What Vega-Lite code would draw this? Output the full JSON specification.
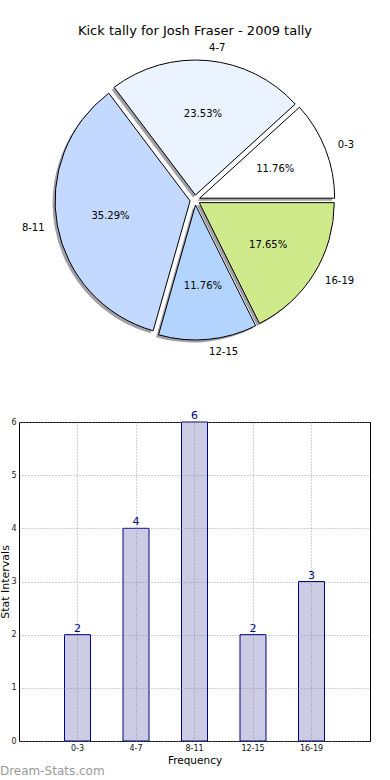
{
  "$schema": "https://vega.github.io/schema/vega-lite/v6.json",
  "padding": {"left": -1, "top": 24, "right": 5, "bottom": 0},
  "background": "white",
  "config": {"font": "DejaVu Sans", "view": {"stroke": null}},
  "datasets": {
    "kicks": [
      {"interval": "0-3", "tally": 2, "rank": 1, "pct": "11.76%"},
      {"interval": "4-7", "tally": 4, "rank": 2, "pct": "23.53%"},
      {"interval": "8-11", "tally": 6, "rank": 3, "pct": "35.29%"},
      {"interval": "12-15", "tally": 2, "rank": 4, "pct": "11.76%"},
      {"interval": "16-19", "tally": 3, "rank": 5, "pct": "17.65%"}
    ]
  },
  "bounds": "flush",
  "spacing": 72,
  "vconcat": [
    {
      "width": 352,
      "height": 300,
      "title": {"text": "Kick tally for Josh Fraser - 2009 tally", "fontSize": 13, "fontWeight": "normal", "offset": 5, "color": "black", "font": "DejaVu Sans"},
      "data": {"name": "kicks"},
      "transform": [{"joinaggregate": [{"op": "sum", "field": "tally", "as": "total"}]}],
      "encoding": {
        "theta": {"field": "tally", "type": "quantitative", "stack": true, "scale": {"range": [1.5708, -4.7124], "nice": false, "zero": true}},
        "order": {"field": "rank", "type": "quantitative"},
        "detail": {"field": "interval", "type": "nominal"}
      },
      "layer": [
        {
          "mark": {"type": "arc", "radius": 135, "fill": "#a0a0a6",
            "xOffset": {"expr": "5*cos(PI*(datum.tally_start+datum.tally_end)/datum.total)-2.5"},
            "yOffset": {"expr": "2.5-5*sin(PI*(datum.tally_start+datum.tally_end)/datum.total)"}}
        },
        {
          "mark": {"type": "arc", "radius": 135, "stroke": "black", "strokeWidth": 1,
            "xOffset": {"expr": "5*cos(PI*(datum.tally_start+datum.tally_end)/datum.total)"},
            "yOffset": {"expr": "-5*sin(PI*(datum.tally_start+datum.tally_end)/datum.total)"}},
          "encoding": {
            "color": {"field": "interval", "type": "nominal", "legend": null,
              "scale": {"domain": ["0-3", "4-7", "8-11", "12-15", "16-19"], "range": ["#ffffff", "#ebf3ff", "#c4d9ff", "#b3d4ff", "#cfea8b"]}}
          }
        },
        {
          "mark": {"type": "text", "radius": 81, "fontSize": 10, "color": "black", "align": "center", "baseline": "middle",
            "xOffset": {"expr": "5*cos(PI*(datum.tally_start+datum.tally_end)/datum.total)"},
            "yOffset": {"expr": "-5*sin(PI*(datum.tally_start+datum.tally_end)/datum.total)"}},
          "encoding": {"text": {"field": "pct", "type": "nominal"}}
        },
        {
          "mark": {"type": "text", "radius": 148, "fontSize": 10, "color": "black", "baseline": "middle",
            "align": {"expr": "cos(PI*(datum.tally_start+datum.tally_end)/datum.total) >= 0 ? 'left' : 'right'"},
            "xOffset": {"expr": "5*cos(PI*(datum.tally_start+datum.tally_end)/datum.total)"},
            "yOffset": {"expr": "-5*sin(PI*(datum.tally_start+datum.tally_end)/datum.total)"}},
          "encoding": {"text": {"field": "interval", "type": "nominal"}}
        }
      ]
    },
    {
      "width": 351,
      "height": 319,
      "data": {"name": "kicks"},
      "view": {"stroke": "black", "strokeWidth": 1},
      "title": {"text": "Dream-Stats.com", "orient": "bottom", "anchor": "start", "frame": "bounds", "fontSize": 12, "fontWeight": "normal", "color": "#9a9a9a", "offset": 0, "font": "DejaVu Sans"},
      "encoding": {
        "x": {
          "field": "interval", "type": "nominal", "sort": null,
          "scale": {"paddingInner": 0.556, "paddingOuter": 0.778},
          "axis": {"title": "Frequency", "titleFontSize": 10.5, "titleFontWeight": "normal", "titleColor": "black", "titlePadding": 3,
            "labelFontSize": 8, "labelColor": "#111", "labelAngle": 0, "labelPadding": 3, "ticks": false, "domain": false,
            "grid": true, "gridDash": [1, 2], "gridColor": "#888", "gridWidth": 0.8, "bandPosition": 0.5, "zindex": 1}
        },
        "y": {
          "field": "tally", "type": "quantitative",
          "scale": {"domain": [0, 6], "nice": false},
          "axis": {"title": "Stat Intervals", "titleFontSize": 11, "titleFontWeight": "normal", "titleColor": "black", "titlePadding": 0,
            "values": [0, 1, 2, 3, 4, 5, 6], "labelFontSize": 8, "labelColor": "#222", "labelPadding": 3, "labelFlush": false,
            "ticks": false, "domain": false, "grid": true, "gridDash": [1, 2], "gridColor": "#888", "gridWidth": 0.8, "zindex": 1}
        }
      },
      "layer": [
        {"mark": {"type": "bar", "fill": "#cbcbe3", "stroke": "#000080", "strokeWidth": 1}},
        {"mark": {"type": "text", "color": "#000080", "fontSize": 11, "baseline": "alphabetic", "dy": -3},
         "encoding": {"text": {"field": "tally", "type": "quantitative"}}}
      ]
    }
  ]
}
